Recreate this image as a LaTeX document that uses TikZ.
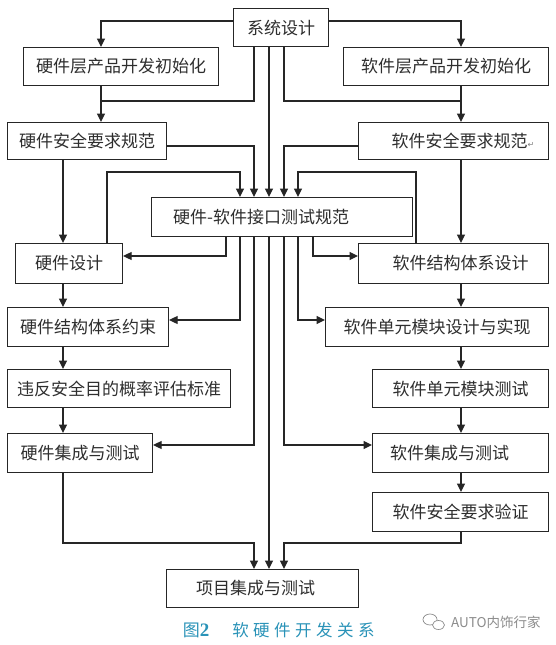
\documentclass[tikz,border=0pt]{standalone}
\usepackage{fontspec}
\newfontfamily\cjk{Noto Sans CJK SC}
\newfontfamily\capserif{Liberation Serif}
\newfontfamily\symfont{DejaVu Sans}
\usetikzlibrary{arrows.meta}
\definecolor{linec}{HTML}{262626}
\definecolor{textc}{HTML}{2E2E2E}
\definecolor{capc}{HTML}{2A93B8}
\definecolor{wmc}{HTML}{8C8C8C}
\tikzset{
  box/.style={draw=linec, line width=1.1pt, inner sep=0pt, anchor=north west,
    font=\cjk\fontsize{17}{20}\selectfont, text=textc},
  conn/.style={draw=linec, line width=1.1pt},
  arr/.style={conn, -{Triangle[length=8.5pt,width=8pt]}},
}
\begin{document}
\begin{tikzpicture}[x=1pt,y=-1pt]
\useasboundingbox[fill=white] (0,0) rectangle (556,645);
% x and y guide coordinates
\foreach \v in {63,101,107,226,240,254,269,284,298,313,416,461}{\coordinate (c\v) at (\v,0);}
\foreach \v in {21,101,146,172,256,320,445,543}{\coordinate (y\v) at (0,\v);}
% boxes
\node[box, minimum width=95, minimum height=38] (sys) at (233,8) {系统设计};
\node[box, minimum width=195, minimum height=38] (hwinit) at (23,47) {硬件层产品开发初始化};
\node[box, minimum width=205, minimum height=38] (swinit) at (343,47) {软件层产品开发初始化};
\node[box, minimum width=159, minimum height=37] (hwsafe) at (7,122) {硬件安全要求规范};
\node[box, minimum width=190, minimum height=37] (swsafe) at (358,122) {\hspace*{19pt}软件安全要求规范{\symfont\fontsize{8}{8}\selectfont\color{gray}↵}};
\node[box, minimum width=261, minimum height=39] (iface) at (151,197) {硬件-软件接口测试规范\hspace*{42pt}};
\node[box, minimum width=107, minimum height=40] (hwdes) at (15,243) {硬件设计};
\node[box, minimum width=190, minimum height=40] (swarch) at (358,243) {\hspace*{14pt}软件结构体系设计};
\node[box, minimum width=161, minimum height=39] (hwarch) at (7,307) {硬件结构体系约束};
\node[box, minimum width=223, minimum height=39] (swunit) at (325,307) {软件单元模块设计与实现};
\node[box, minimum width=223, minimum height=38] (viol) at (7,369) {违反安全目的概率评估标准};
\node[box, minimum width=176, minimum height=38] (swut) at (372,369) {软件单元模块测试};
\node[box, minimum width=145, minimum height=39] (hwint) at (7,433) {硬件集成与测试};
\node[box, minimum width=176, minimum height=39] (swint) at (372,433) {软件集成与测试\hspace*{22pt}};
\node[box, minimum width=176, minimum height=39] (swver) at (372,492) {软件安全要求验证};
\node[box, minimum width=192, minimum height=38] (proj) at (166,569) {项目集成与测试\hspace*{14pt}};
% connectors from system design
\draw[arr] (sys.west |- y21) -| (hwinit.north -| c101);
\draw[arr] (sys.east |- y21) -| (swinit.north -| c461);
\draw[arr] (hwinit.south -| c101) -- (hwsafe.north -| c101);
\draw[arr] (swinit.south -| c461) -- (swsafe.north -| c461);
\draw[conn] (sys.south -| c254) |- (c101 |- y101);
\draw[conn] (sys.south -| c284) |- (c461 |- y101);
\draw[arr] (sys.south -| c269) -- (iface.north -| c269);
% into interface spec
\draw[arr] (hwsafe.east |- y146) -| (iface.north -| c254);
\draw[arr] (swsafe.west |- y146) -| (iface.north -| c284);
\draw[arr] (hwdes.north -| c107) |- (c240 |- y172) -- (iface.north -| c240);
\draw[arr] (swarch.north -| c416) |- (c298 |- y172) -- (iface.north -| c298);
% out of interface spec
\draw[arr] (iface.south -| c226) |- (hwdes.east |- y256);
\draw[arr] (iface.south -| c313) |- (swarch.west |- y256);
\draw[arr] (iface.south -| c240) |- (hwarch.east |- y320);
\draw[arr] (iface.south -| c298) |- (swunit.west |- y320);
\draw[arr] (iface.south -| c254) |- (hwint.east |- y445);
\draw[arr] (iface.south -| c284) |- (swint.west |- y445);
\draw[arr] (iface.south -| c269) -- (proj.north -| c269);
% left chain
\draw[arr] (hwsafe.south -| c63) -- (hwdes.north -| c63);
\draw[arr] (hwdes.south -| c63) -- (hwarch.north -| c63);
\draw[arr] (hwarch.south -| c63) -- (viol.north -| c63);
\draw[arr] (viol.south -| c63) -- (hwint.north -| c63);
% right chain
\draw[arr] (swsafe.south -| c461) -- (swarch.north -| c461);
\draw[arr] (swarch.south -| c461) -- (swunit.north -| c461);
\draw[arr] (swunit.south -| c461) -- (swut.north -| c461);
\draw[arr] (swut.south -| c461) -- (swint.north -| c461);
\draw[arr] (swint.south -| c461) -- (swver.north -| c461);
% into project integration
\draw[arr] (hwint.south -| c63) |- (c254 |- y543) -- (proj.north -| c254);
\draw[arr] (swver.south -| c461) |- (c284 |- y543) -- (proj.north -| c284);
% caption
\node[text=capc, inner sep=0pt, font=\cjk\fontsize{17}{20}\selectfont] (capnum) at (196,630) {图{\capserif\bfseries\fontsize{19}{20}\selectfont 2}};
\node[text=capc, inner sep=0pt, font=\cjk\fontsize{16.5}{20}\selectfont] (captitle) at (303.5,630) {软\hspace{4.5pt}硬\hspace{4.5pt}件\hspace{4.5pt}开\hspace{4.5pt}发\hspace{4.5pt}关\hspace{4.5pt}系};
% watermark
\draw[wmc, line width=0.7pt] (430,619.5) ellipse [x radius=7, y radius=5.5];
\draw[wmc, line width=0.7pt, fill=white] (438.5,625) ellipse [x radius=6, y radius=4.5];
\node[text=wmc, inner sep=0pt, anchor=west, font=\cjk\fontsize{13.5}{15}\selectfont] (wm) at (451,622) {AUTO内饰行家};
\end{tikzpicture}
\end{document}
